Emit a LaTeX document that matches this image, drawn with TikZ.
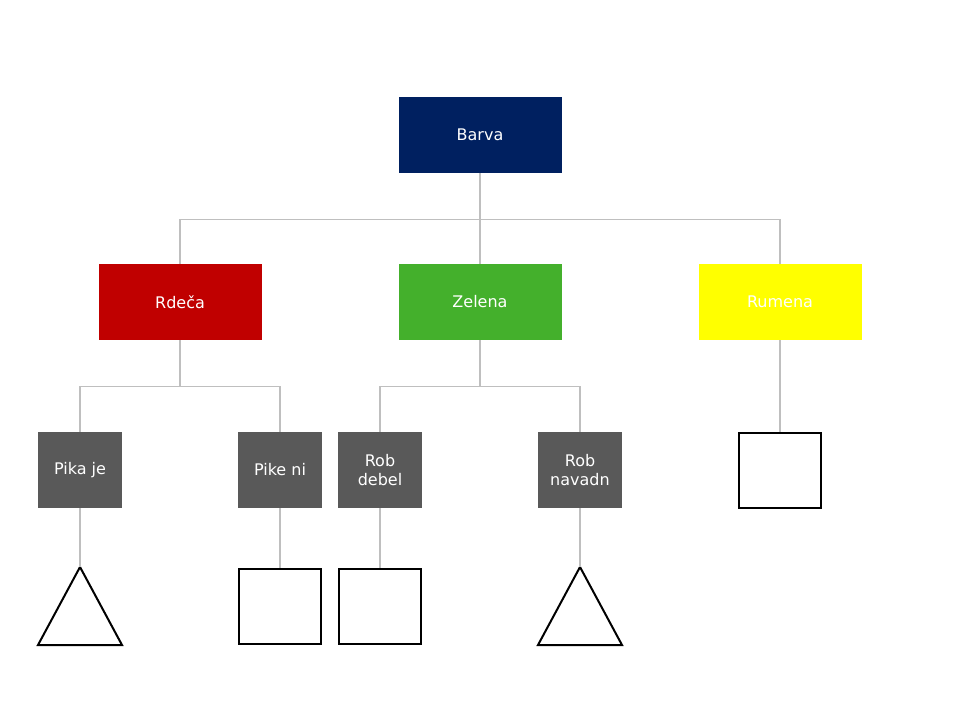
\documentclass[tikz,border=0pt]{standalone}
\usepackage{fontspec}
\setmainfont{DejaVu Sans}
\definecolor{navyb}{HTML}{002060}
\definecolor{redb}{HTML}{C00000}
\definecolor{greenb}{HTML}{44B02C}
\definecolor{yellowb}{HTML}{FFFF00}
\definecolor{greyb}{HTML}{595959}
\definecolor{linec}{HTML}{BFBFBF}
\begin{document}
\begin{tikzpicture}[x=0.75pt,y=-0.75pt,
  bigbox/.style={draw=none,minimum width=163*0.75pt,minimum height=76*0.75pt,inner sep=0pt,text=white,font=\fontsize{12}{14}\selectfont},
  smallbox/.style={draw=none,fill=greyb,minimum width=84*0.75pt,minimum height=76*0.75pt,inner sep=0pt,text=white,align=center,font=\fontsize{12}{14}\selectfont},
  emptybox/.style={draw=black,line width=1.5pt,minimum width=82.5*0.75pt,minimum height=75*0.75pt,inner sep=0pt},
  conn/.style={draw=linec,line width=0.9pt},
  tri/.style={draw=black,line width=1.5pt,line join=miter}]
\useasboundingbox (0,0) rectangle (960,720);
\node[bigbox,fill=navyb] (barva) at (480,135) {Barva};
\node[bigbox,fill=redb] (rdeca) at (180,302) {Rdeča};
\node[bigbox,fill=greenb] (zelena) at (480,302) {Zelena};
\node[bigbox,fill=yellowb] (rumena) at (780,302) {Rumena};
\node[smallbox] (pikaje) at (80,470) {Pika je};
\node[smallbox] (pikeni) at (280,470) {Pike ni};
\node[smallbox] (robdebel) at (380,470) {Rob\\debel};
\node[smallbox] (robnavadn) at (580,470) {Rob\\navadn};
\node[emptybox] (sqR) at (780,470) {};
\node[emptybox] (sq1) at (280,606.5) {};
\node[emptybox] (sq2) at (380,606.5) {};
\coordinate (t1) at (80,567);
\coordinate (t2) at (580,567);
\draw[tri] (t1) -- (38,645) -- (122,645) -- cycle;
\draw[tri] (t2) -- (538,645) -- (622,645) -- cycle;
% connectors
\draw[conn] (barva.south) -- ++(0,46) -| (rdeca.north);
\draw[conn] (barva.south) -- ++(0,46) -| (rumena.north);
\draw[conn] (barva.south) -- (zelena.north);
\draw[conn] (rdeca.south) -- ++(0,46) -| (pikaje.north);
\draw[conn] (rdeca.south) -- ++(0,46) -| (pikeni.north);
\draw[conn] (zelena.south) -- ++(0,46) -| (robdebel.north);
\draw[conn] (zelena.south) -- ++(0,46) -| (robnavadn.north);
\draw[conn] (rumena.south) -- (sqR.north);
\draw[conn] (pikaje.south) -- (t1);
\draw[conn] (pikeni.south) -- (sq1.north);
\draw[conn] (robdebel.south) -- (sq2.north);
\draw[conn] (robnavadn.south) -- (t2);
\end{tikzpicture}
\end{document}
